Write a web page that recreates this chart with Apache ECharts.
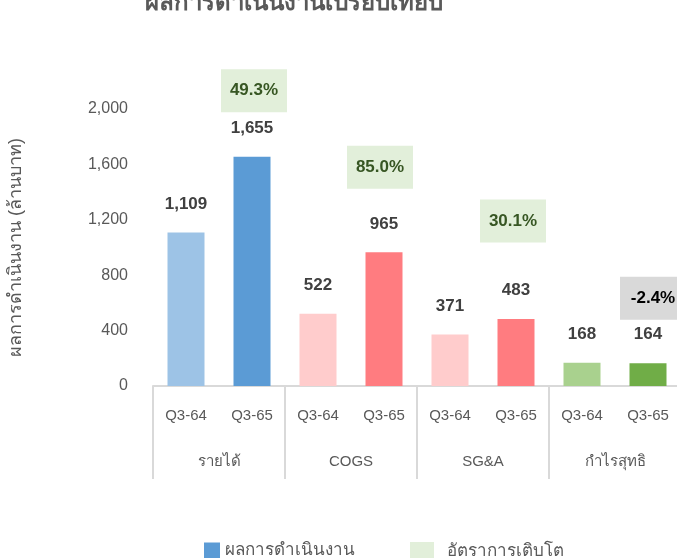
<!DOCTYPE html>
<html>
<head>
<meta charset="utf-8">
<script src="https://cdn.jsdelivr.net/npm/echarts@6/dist/echarts.min.js"></script>
<style>
  html, body { margin: 0; padding: 0; background: #fff; }
  #chart { width: 677px; height: 558px; }
</style>
</head>
<body>
<div id="chart"></div>
<script>
const groups = ['รายได้', 'COGS', 'SG&A', 'กำไรสุทธิ'];
const periods = ['Q3-64', 'Q3-65'];
const prevValues = [1109, 522, 371, 168];
const currValues = [1655, 965, 483, 164];
const growth = [49.3, 85.0, 30.1, -2.4];
const yTicks = { min: 0, max: 2000, interval: 400 };

// light / dark pair per group
const prevColors = ['#9DC3E6', '#FFCCCC', '#FFCCCC', '#A9D18E'];
const currColors = ['#5B9BD5', '#FF7C80', '#FF7C80', '#70AD47'];
// where each growth box sits relative to its bar (px)
const boxShift = [[2, -66], [-4, -85], [-3, -98], [5, -65]];

const font = "'Liberation Sans', Arial, sans-serif";
const grey = '#595959';

const periodCats = [];
const barData = [];
groups.forEach((g, i) => {
  periodCats.push(periods[0], periods[1]);
  barData.push({ value: prevValues[i], itemStyle: { color: prevColors[i] } });
  barData.push({ value: currValues[i], itemStyle: { color: currColors[i] } });
});

const growthData = growth.map((v, i) => {
  const up = v >= 0;
  return {
    value: [i * 2 + 1, currValues[i]],
    label: {
      offset: boxShift[i],
      backgroundColor: up ? '#E2EFDA' : '#D9D9D9',
      color: up ? '#375623' : '#000000',
    },
  };
});

const chart = echarts.init(document.getElementById('chart'));
chart.setOption({
  animation: false,
  title: {
    text: 'ผลการดำเนินงานเปรียบเทียบ',
    left: 140,
    top: -14,
    textStyle: { fontFamily: font, fontSize: 24, fontWeight: 'bold', color: grey },
  },
  grid: { left: 153, width: 528, top: 109, bottom: 172, outerBoundsMode: 'none' },
  legend: [
    {
      data: ['ผลการดำเนินงาน'],
      left: 199,
      top: 537,
      icon: 'rect',
      itemWidth: 16,
      itemHeight: 16,
      textStyle: { fontFamily: font, fontSize: 17, color: grey },
    },
    {
      data: ['อัตราการเติบโต'],
      left: 405,
      top: 537,
      icon: 'rect',
      itemWidth: 24,
      itemHeight: 18,
      textStyle: { fontFamily: font, fontSize: 17, color: grey, padding: [0, 0, 0, 8] },
    },
  ],
  xAxis: [
    {
      type: 'category',
      data: periodCats,
      axisLine: { show: false },
      axisTick: { show: false },
      axisLabel: { interval: 0, margin: 22, fontFamily: font, fontSize: 15, color: grey },
    },
    {
      type: 'category',
      data: groups,
      position: 'bottom',
      axisLine: { show: true, lineStyle: { color: '#D9D9D9', width: 2 } },
      axisTick: { show: true, length: 93, lineStyle: { color: '#D9D9D9', width: 2 } },
      axisLabel: { interval: 0, margin: 68, fontFamily: font, fontSize: 15, color: grey },
    },
  ],
  yAxis: {
    type: 'value',
    min: yTicks.min,
    max: yTicks.max,
    interval: yTicks.interval,
    name: 'ผลการดำเนินงาน (ล้านบาท)',
    nameLocation: 'middle',
    nameRotate: 90,
    nameGap: 128,
    nameTextStyle: { fontFamily: font, fontSize: 18, color: grey },
    axisLine: { show: false },
    axisTick: { show: false },
    splitLine: { show: false },
    axisLabel: {
      margin: 25,
      fontFamily: font,
      fontSize: 16,
      color: grey,
      formatter: (v) => v.toLocaleString('en-US'),
    },
  },
  series: [
    {
      name: 'ผลการดำเนินงาน',
      type: 'bar',
      xAxisIndex: 0,
      barWidth: 37,
      itemStyle: { color: '#5B9BD5' },
      data: barData,
      label: {
        show: true,
        position: 'top',
        distance: 20,
        fontFamily: font,
        fontSize: 17,
        fontWeight: 'bold',
        color: '#404040',
        formatter: (p) => p.value.toLocaleString('en-US'),
      },
    },
    {
      name: 'อัตราการเติบโต',
      type: 'scatter',
      xAxisIndex: 0,
      symbolSize: 0,
      clip: false,
      itemStyle: { color: '#E2EFDA', opacity: 1 },
      data: growthData,
      label: {
        show: true,
        position: 'inside',
        width: 66,
        height: 43,
        lineHeight: 43,
        align: 'center',
        opacity: 1,
        textBorderWidth: 0,
        fontFamily: font,
        fontSize: 17,
        fontWeight: 'bold',
        formatter: (p) => growth[(p.value[0] - 1) / 2].toFixed(1) + '%',
      },
    },
  ],
});
</script>
</body>
</html>
